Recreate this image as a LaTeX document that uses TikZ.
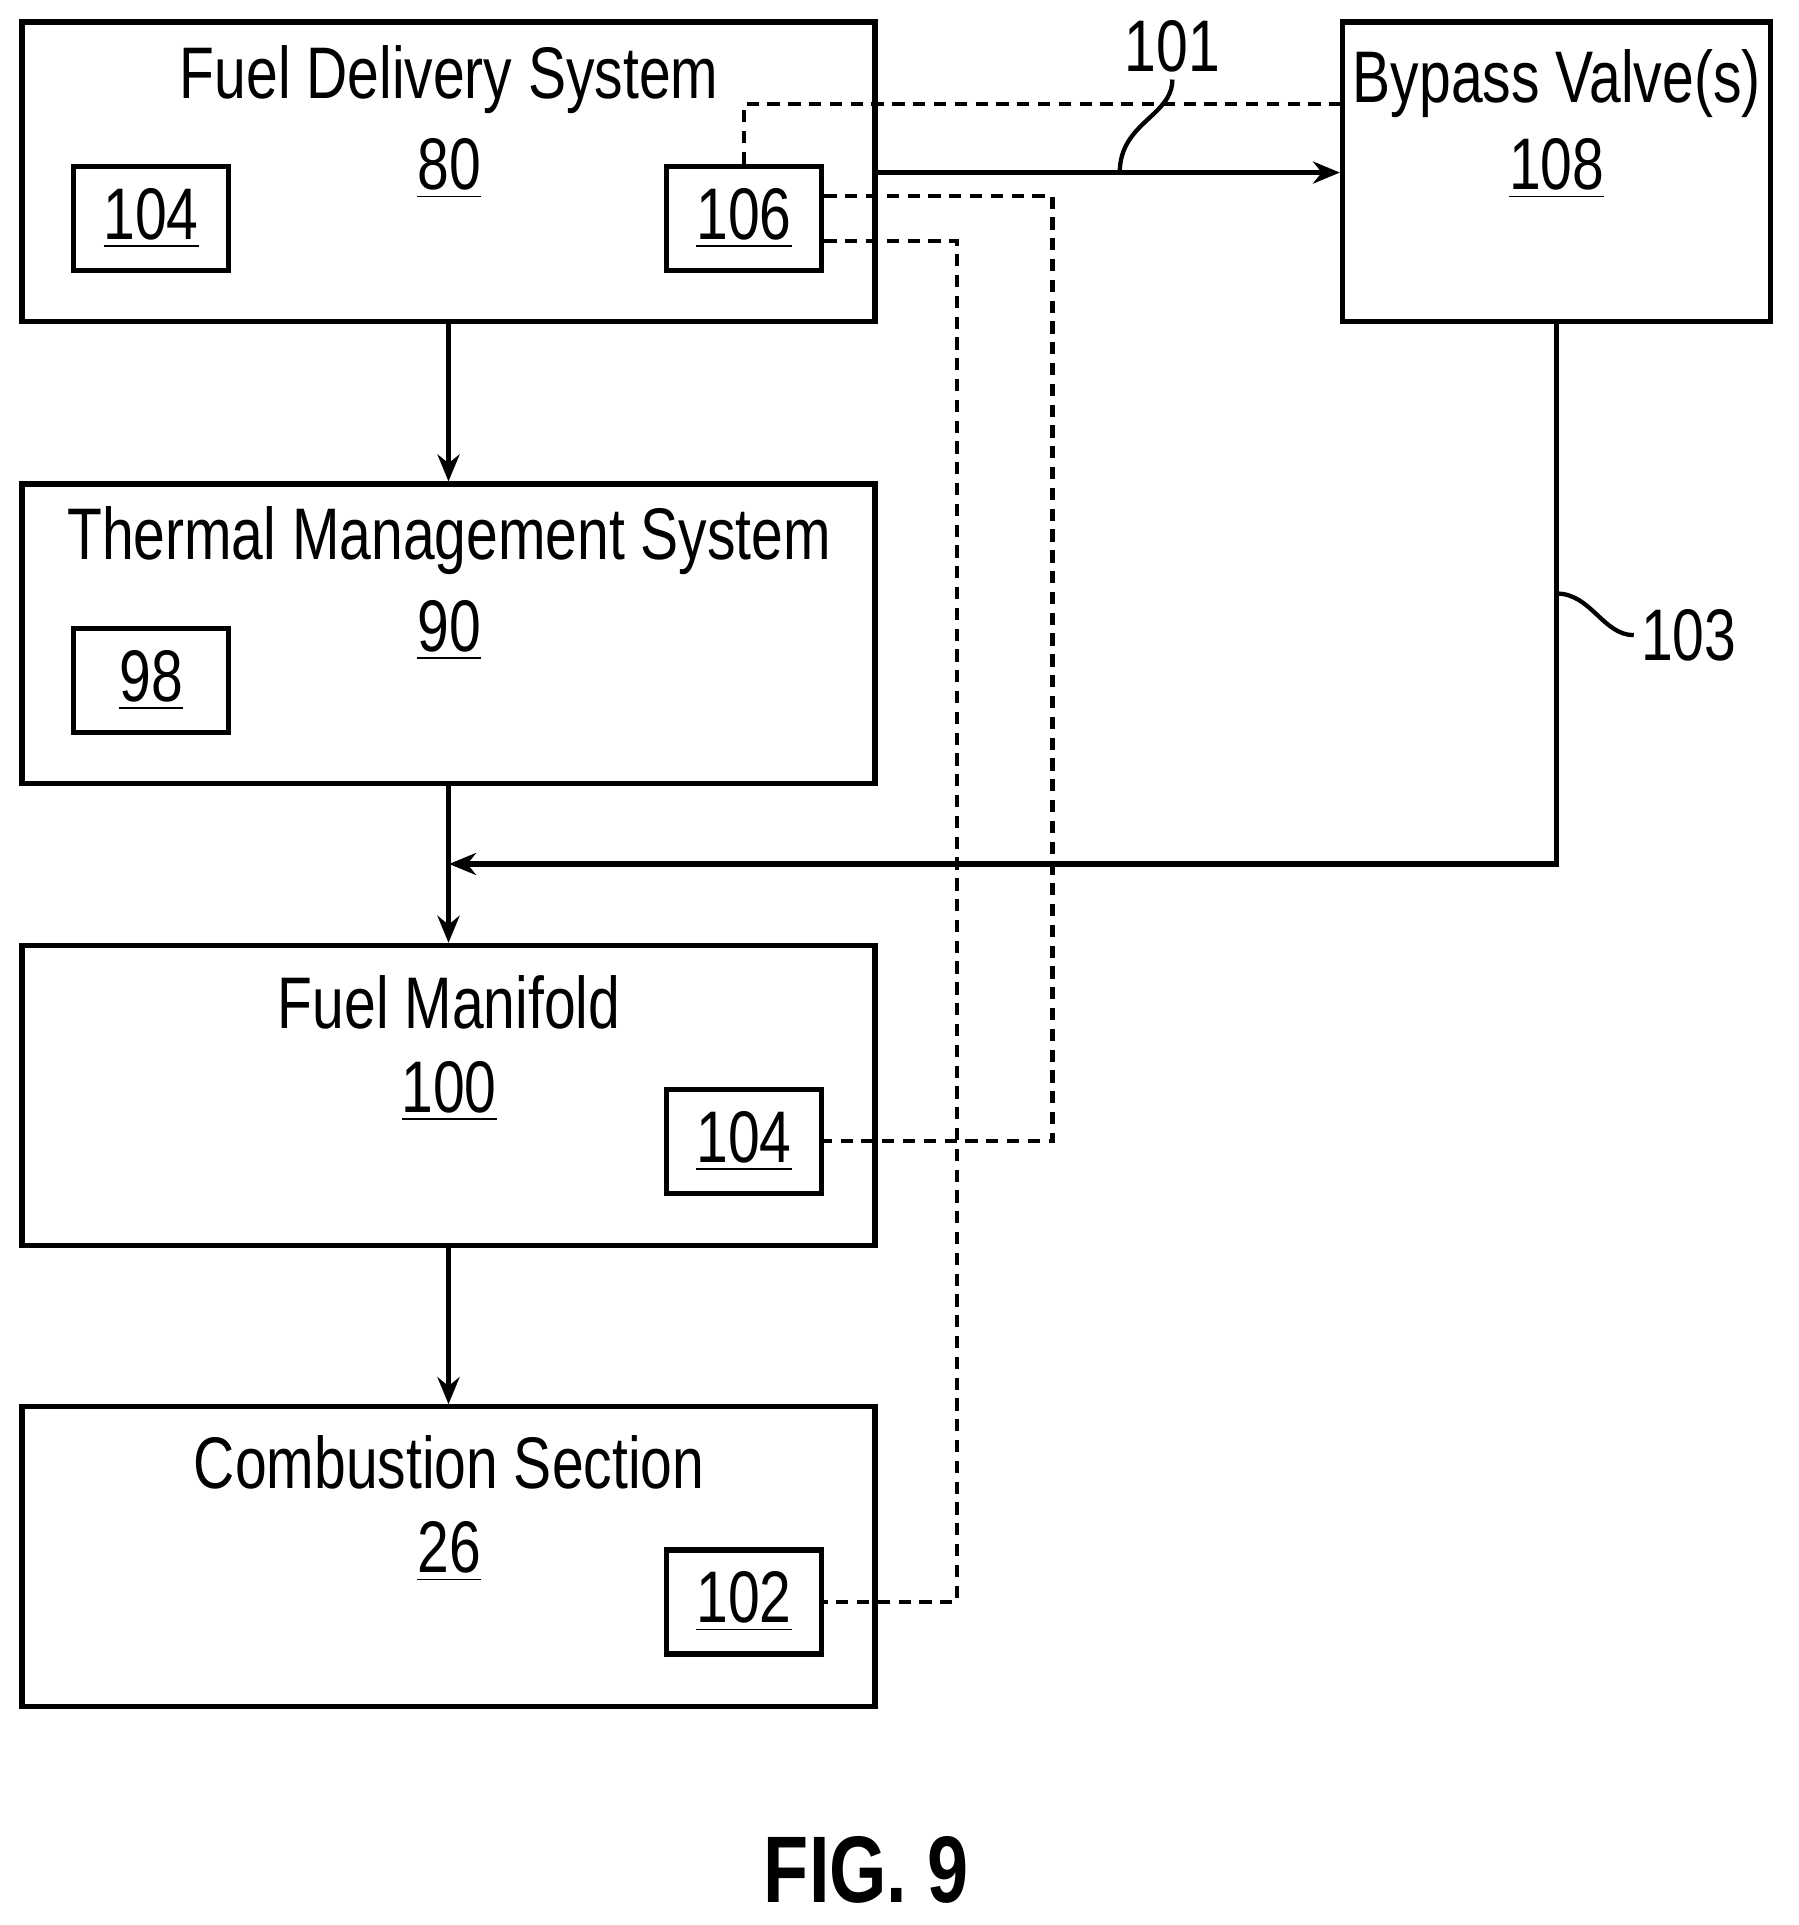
\documentclass[tikz,border=0pt]{standalone}
\usepackage{fontspec}
\setmainfont{Liberation Sans}[FakeStretch=0.78]
\usetikzlibrary{arrows.meta,positioning,calc}

\begin{document}
\begin{tikzpicture}[
block/.style={rectangle, draw, line width=1.2pt, minimum width=6.97cm, minimum height=2.45cm, inner sep=0pt},
small/.style={rectangle, draw, line width=1.2pt, minimum width=1.27cm, minimum height=0.85cm, inner sep=0pt, font=\fontsize{17}{20}\selectfont},
txt/.style={font=\fontsize{17}{20}\selectfont, inner sep=0pt},
arrow/.style={-{Stealth[length=0.22cm,width=0.18cm]}, line width=1.2pt},
ctrl/.style={dashed, dash pattern=on 0.1cm off 0.07cm, line width=1pt}
]
\useasboundingbox (0,0) rectangle (14.7,-15.73);

% Main blocks
\node[block] (fds) at (3.665,-1.405) {};
\node[block, minimum width=3.5cm] (bypass) at (12.72,-1.405) {};
\node[block] (tms) at (3.665,-5.18) {};
\node[block] (fm) at (3.665,-8.95) {};
\node[block] (cs) at (3.665,-12.72) {};

% Titles and numbers
\node[txt] at (3.67,-0.65) {Fuel Delivery System};
\node[txt] at (3.67,-1.38) {\underline{80}};
\node[txt] at (12.72,-0.68) {Bypass Valve(s)};
\node[txt] at (12.72,-1.38) {\underline{108}};
\node[txt] at (3.67,-4.42) {Thermal Management System};
\node[txt] at (3.67,-5.15) {\underline{90}};
\node[txt] at (3.67,-8.19) {Fuel Manifold};
\node[txt] at (3.67,-8.92) {\underline{100}};
\node[txt] at (3.67,-11.95) {Combustion Section};
\node[txt] at (3.67,-12.68) {\underline{26}};

% Inner boxes
\node[small] (s104a) at (1.235,-1.785) {\underline{104}};
\node[small] (s106) at (6.08,-1.785) {\underline{106}};
\node[small] (s98) at (1.235,-5.56) {\underline{98}};
\node[small] (s104b) at (6.08,-9.325) {\underline{104}};
\node[small] (s102) at (6.08,-13.09) {\underline{102}};

% Fuel flow
\draw[arrow] (fds) -- (tms);
\draw[arrow] (tms) -- (fm);
\draw[arrow] (fm) -- (cs);
\draw[arrow] (fds.east |- 0,-1.41) -- (bypass.west |- 0,-1.41);
\coordinate (join) at (3.67,-7.06);
\draw[arrow] (bypass.south) |- (join);

% Reference labels
\node[txt] (l101) at (9.58,-0.38) {101};
\draw[line width=1pt] (9.15,-1.41) .. controls (9.15,-1.0) and (9.58,-0.95) .. (9.58,-0.65);
\node[txt] (l103) at (13.8,-5.19) {103};
\draw[line width=1pt] (12.72,-4.85) .. controls (13.0,-4.85) and (13.1,-5.19) .. (13.35,-5.19);

% Control lines
\draw[ctrl] (s106.north) |- (bypass.west |- 0,-0.85);
\draw[ctrl] (s106.east |- 0,-1.6) -| (8.6,-9.325) -- (s104b.east);
\draw[ctrl] (s106.east |- 0,-1.97) -| (7.82,-13.09) -- (s102.east);

% Figure label
\node[font=\fontsize{22}{26}\selectfont\bfseries, inner sep=0pt] (fig) at (7.08,-15.28) {FIG. 9};
\end{tikzpicture}
\end{document}
